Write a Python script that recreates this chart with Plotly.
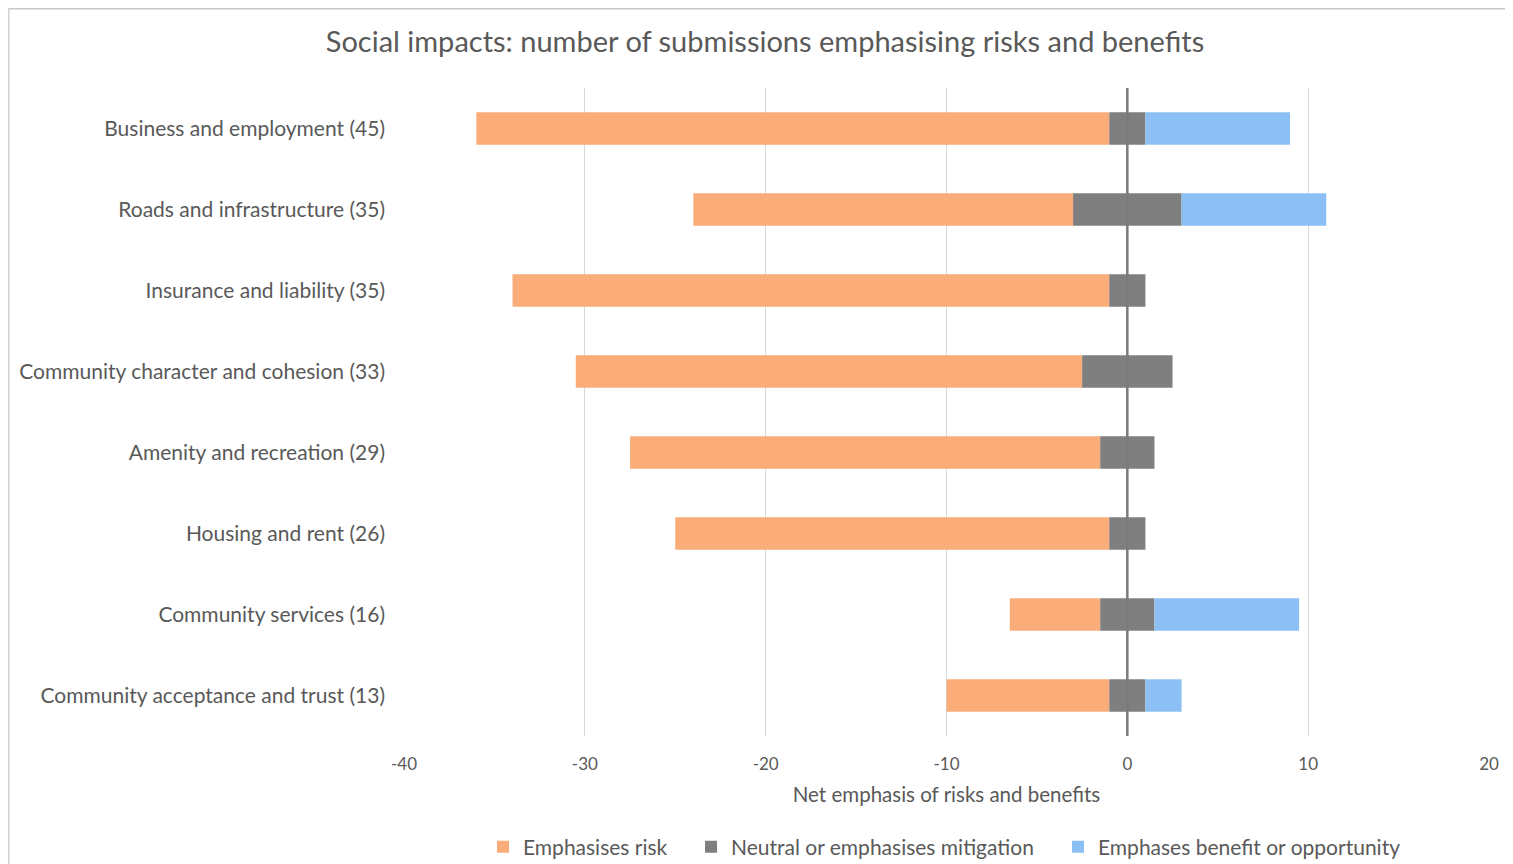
import plotly.graph_objects as go

categories = [
    "Business and employment (45)",
    "Roads and infrastructure (35)",
    "Insurance and liability (35)",
    "Community character and cohesion (33)",
    "Amenity and recreation (29)",
    "Housing and rent (26)",
    "Community services (16)",
    "Community acceptance and trust (13)",
]
risk = [35, 21, 33, 28, 26, 24, 5, 9]
neutral = [2, 6, 2, 5, 3, 2, 3, 2]
benefit = [8, 8, 0, 0, 0, 0, 8, 2]

x_tickvals = [-40, -30, -20, -10, 0, 10, 20]
x_ticktext = ["-40", "-30", "-20", "-10", "0", "10", "20"]

series_names = ["Emphasises risk", "Neutral or emphasises mitigation", "Emphases benefit or opportunity"]
colors = ["#FAAD79", "#7F7F7F", "#8CC0F5"]

half = [n / 2 for n in neutral]

# figure is placed by the page at an 8px offset
W, H = 1505, 856
L, T, PW, PH = 396, 80, 1085, 648
R = W - L - PW
B = H - T - PH

px = lambda v: (v - L) / PW
py = lambda v: (T + PH - v) / PH

fig = go.Figure()
fig.add_trace(go.Bar(
    y=categories, x=[-r for r in risk], base=[-h for h in half], orientation="h",
    name=series_names[0], marker=dict(color=colors[0], line=dict(width=0)), width=0.4,
    legend="legend",
))
fig.add_trace(go.Bar(
    y=categories, x=neutral, base=[-h for h in half], orientation="h",
    name=series_names[1], marker=dict(color=colors[1], line=dict(width=0)), width=0.4,
    legend="legend2",
))
fig.add_trace(go.Bar(
    y=categories, x=benefit, base=half, orientation="h",
    name=series_names[2], marker=dict(color=colors[2], line=dict(width=0)), width=0.4,
    legend="legend3",
))

fig.add_shape(type="line", xref="x", yref="paper", x0=0, x1=0, y0=0, y1=1,
              line=dict(color="#7A7A7A", width=2.5), layer="above")
# chart border (top and left edges visible)
fig.add_shape(type="line", xref="paper", yref="paper", x0=px(0), x1=px(W), y0=py(0.8), y1=py(0.8),
              line=dict(color="#C8C8C8", width=1.5), layer="below")
fig.add_shape(type="line", xref="paper", yref="paper", x0=px(0.8), x1=px(0.8), y0=py(0), y1=py(H),
              line=dict(color="#D0D0D0", width=1.5), layer="below")

leg_common = dict(orientation="h", xanchor="left", y=py(839), yanchor="middle",
                  font=dict(size=21, color="#595959"), itemsizing="constant", itemwidth=30,
                  bgcolor="rgba(0,0,0,0)")
legend_text_x = [515, 723, 1090]

fig.update_layout(
    width=W, height=H,
    margin=dict(l=L, r=R, t=T, b=B, autoexpand=False),
    paper_bgcolor="white", plot_bgcolor="white",
    barmode="overlay",
    font=dict(family="Lato, Open Sans, sans-serif", color="#595959"),
    title=dict(text="Social impacts: number of submissions emphasising risks and benefits",
               x=757 / W, xanchor="center", xref="container", y=1 - 34 / H, yanchor="middle",
               font=dict(size=29, color="#595959")),
    showlegend=True,
    legend=dict(x=px(legend_text_x[0] - 40), **leg_common),
    legend2=dict(x=px(legend_text_x[1] - 40), **leg_common),
    legend3=dict(x=px(legend_text_x[2] - 40), **leg_common),
    xaxis=dict(range=[-40, 20], tickvals=x_tickvals, ticktext=x_ticktext,
               showgrid=True, gridcolor="#D9D9D9", gridwidth=1,
               zeroline=False, showline=False, ticks="", ticklabelstandoff=16,
               tickfont=dict(size=17, color="#595959"),
               title=dict(text="Net emphasis of risks and benefits", font=dict(size=20.5, color="#595959"),
                          standoff=14)),
    yaxis=dict(autorange="reversed", showgrid=False, zeroline=False, showline=False, ticks="",
               tickfont=dict(size=21, color="#595959"), ticklabelstandoff=18),
)

fig.write_html("out.html")
